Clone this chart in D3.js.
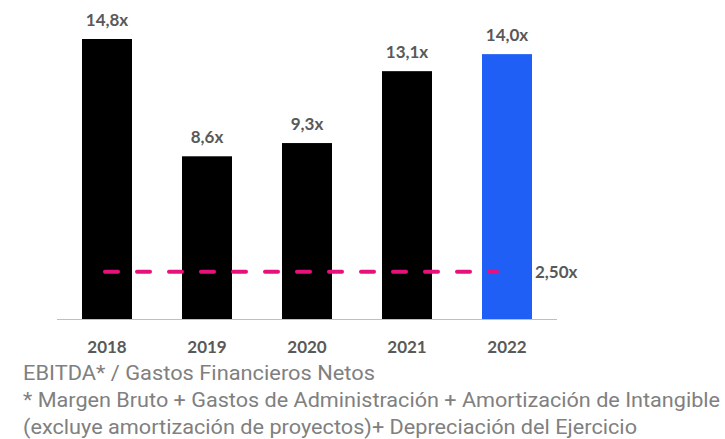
<!DOCTYPE html>
<html>
<head>
<meta charset="utf-8">
<script src="https://cdn.jsdelivr.net/npm/d3@7"></script>
<style>
  body { margin: 0; background: #fff; }
  svg { display: block; }
</style>
</head>
<body>
<svg id="chart"></svg>
<script>
// data
var years = ["2018", "2019", "2020", "2021", "2022"];
var ratios = [14.8, 8.6, 9.3, 13.1, 14.0];
var valueLabels = ["14,8x", "8,6x", "9,3x", "13,1x", "14,0x"];
var threshold = 2.5;
var thresholdLabel = "2,50x";
var notes = [
  "EBITDA* / Gastos Financieros Netos",
  "* Margen Bruto + Gastos de Administración + Amortización de Intangible",
  "(excluye amortización de proyectos)+ Depreciación del Ejercicio"
];

var W = 725, H = 439;
var svg = d3.select("#chart").attr("width", W).attr("height", H);

var x = d3.scaleBand()
  .domain(years)
  .range([57, 557])
  .paddingInner(0.5)
  .paddingOuter(0.25);

var y = d3.scaleLinear()
  .domain([0, 14.8])
  .range([319, 39]);

// bars
svg.selectAll("rect.bar")
  .data(years)
  .enter()
  .append("rect")
    .attr("class", "bar")
    .attr("x", function(d) { return x(d); })
    .attr("y", function(d, i) { return y(ratios[i]); })
    .attr("width", x.bandwidth())
    .attr("height", function(d, i) { return y(0) - y(ratios[i]); })
    .attr("fill", function(d, i) { return i === years.length - 1 ? "#1f5ff5" : "#000"; });

// baseline
svg.append("line")
  .attr("x1", 57).attr("x2", 557)
  .attr("y1", y(0) + 0.5).attr("y2", y(0) + 0.5)
  .attr("stroke", "#bfbfbf")
  .attr("stroke-width", 1);

// value labels
svg.selectAll("text.val")
  .data(years)
  .enter()
  .append("text")
    .attr("class", "val")
    .attr("x", function(d) { return x(d) + x.bandwidth() / 2; })
    .attr("y", function(d, i) { return y(ratios[i]) - 13; })
    .attr("text-anchor", "middle")
    .attr("font-family", "Lato, sans-serif")
    .attr("font-weight", "bold")
    .attr("font-size", 17)
    .attr("fill", "#595959")
    .text(function(d, i) { return valueLabels[i]; });

// year axis
var xAxis = svg.append("g")
  .attr("transform", "translate(0," + y(0) + ")")
  .call(d3.axisBottom(x).tickSize(0).tickPadding(22));
xAxis.select(".domain").remove();
xAxis.selectAll("text")
  .attr("font-family", "Lato, sans-serif")
  .attr("font-weight", "bold")
  .attr("font-size", 17)
  .attr("fill", "#595959");

// threshold line
svg.append("line")
  .attr("x1", 105).attr("x2", 497)
  .attr("y1", y(threshold)).attr("y2", y(threshold))
  .attr("stroke", "#e6117f")
  .attr("stroke-width", 4)
  .attr("stroke-linecap", "round")
  .attr("stroke-dasharray", "13,19");

svg.append("text")
  .attr("x", 535)
  .attr("y", y(threshold) + 6)
  .attr("font-family", "Lato, sans-serif")
  .attr("font-weight", "bold")
  .attr("font-size", 17)
  .attr("fill", "#595959")
  .text(thresholdLabel);

// footnotes
var noteWidths = [352, 697, 614];
svg.selectAll("text.note")
  .data(notes)
  .enter()
  .append("text")
    .attr("class", "note")
    .attr("x", 23)
    .attr("y", function(d, i) { return 380 + i * 27; })
    .attr("font-family", "Roboto, sans-serif")
    .attr("font-size", 21)
    .attr("fill", "#808080")
    .attr("textLength", function(d, i) { return noteWidths[i]; })
    .attr("lengthAdjust", "spacingAndGlyphs")
    .text(function(d) { return d; });
</script>
</body>
</html>
